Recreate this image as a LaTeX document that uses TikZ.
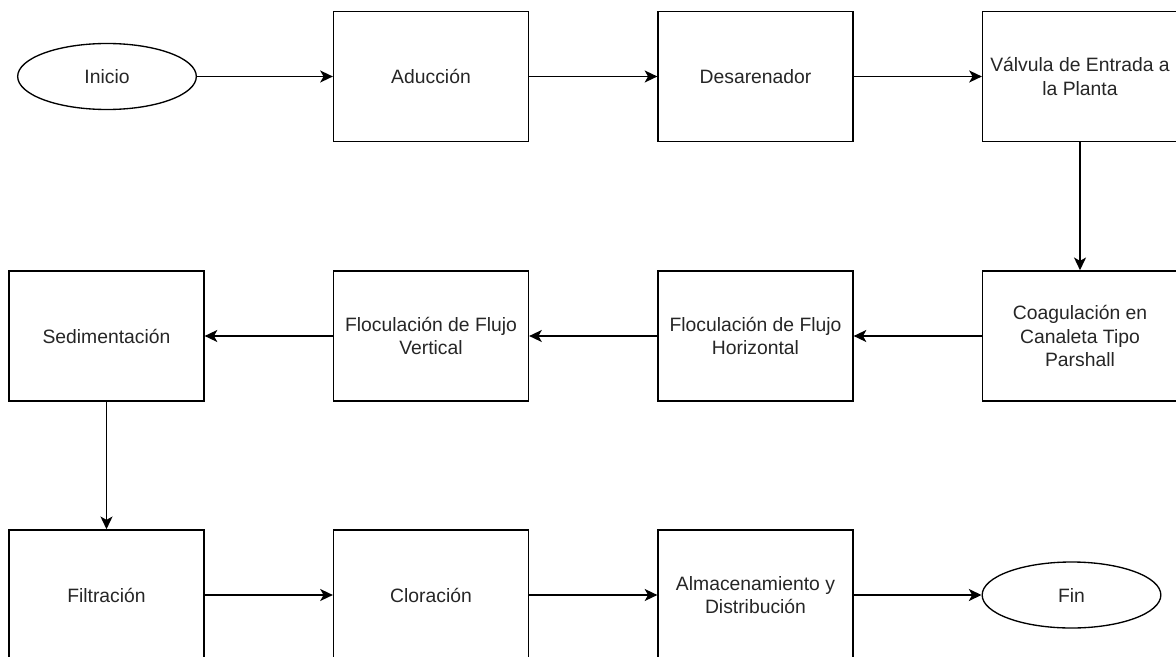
\documentclass[tikz,border=0pt]{standalone}
\usepackage{fontspec}
\setmainfont{Liberation Sans}
\usetikzlibrary{shapes.geometric,arrows.meta}
\definecolor{txt}{HTML}{262626}
\begin{document}
\begin{tikzpicture}[x=0.75pt,y=-0.75pt,
  every node/.style={font=\fontsize{14.5}{17.5}\selectfont, text=txt, align=center},
  stepbox/.style={draw=black, line width=1.2pt, rectangle, minimum width=146pt, minimum height=97.5pt, inner sep=0pt},
  term/.style={draw=black, line width=1.0pt, ellipse, minimum width=134pt, minimum height=49.5pt, inner sep=0pt},
  flow/.style={draw=black, line width=1.2pt, -{Stealth[length=9.5pt,width=9pt,inset=2.5pt]}}]
\fill[white] (0,0) rectangle (1176,656);
\useasboundingbox (0,0) rectangle (1176,656);
\clip (0,0) rectangle (1176,656);
% row 1
\node[term] (inicio) at (107,76.5) {Inicio};
\node[stepbox] (aduc) at (431,76.5) {Aducción};
\node[stepbox] (desa) at (755.5,76.5) {Desarenador};
\node[stepbox] (valv) at (1080,76.5) {Válvula de Entrada a\\la Planta};
% row 2
\node[stepbox] (coag) at (1080,336) {Coagulación en\\Canaleta Tipo\\Parshall};
\node[stepbox] (floch) at (755.5,336) {Floculación de Flujo\\Horizontal};
\node[stepbox] (flocv) at (431,336) {Floculación de Flujo\\Vertical};
\node[stepbox] (sedi) at (106.5,336) {Sedimentación};
% row 3
\node[stepbox] (filt) at (106.5,595) {Filtración};
\node[stepbox] (clor) at (431,595) {Cloración};
\node[stepbox] (alma) at (755.5,595) {Almacenamiento y\\Distribución};
\node[term] (fin) at (1071.5,595) {Fin};
% connectors
\draw[flow] (inicio) -- (aduc);
\draw[flow] (aduc) -- (desa);
\draw[flow] (desa) -- (valv);
\draw[flow] (valv) -- (coag);
\draw[flow] (coag) -- (floch);
\draw[flow] (floch) -- (flocv);
\draw[flow] (flocv) -- (sedi);
\draw[flow] (sedi) -- (filt);
\draw[flow] (filt) -- (clor);
\draw[flow] (clor) -- (alma);
\draw[flow] (alma) -- (fin);
\end{tikzpicture}
\end{document}
